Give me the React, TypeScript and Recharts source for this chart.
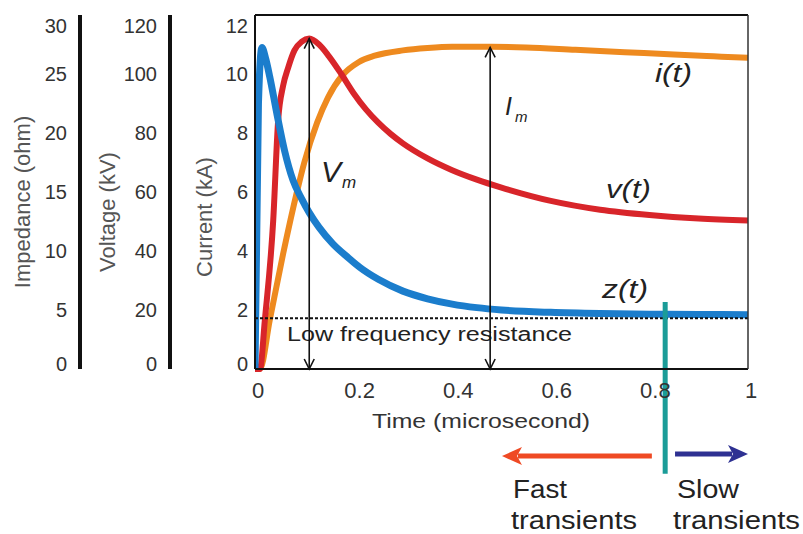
import { ComposedChart, Line, XAxis, YAxis, ReferenceLine } from 'recharts';

const timeTicks = [0, 0.2, 0.4, 0.6, 0.8, 1];
const currentTicks = [0, 2, 4, 6, 8, 10, 12];
const voltageTicks = [0, 20, 40, 60, 80, 100, 120];
const impedanceTicks = [0, 5, 10, 15, 20, 25, 30];

// i(t), kA
const iTime = [0, 0.01, 0.03, 0.057, 0.085, 0.1, 0.126, 0.148, 0.177, 0.21, 0.243, 0.3, 0.35, 0.4, 0.48, 0.55, 0.65, 0.75, 0.85, 0.93, 1];
const iCurrent = [0, 0, 1.66, 3.9, 6.0, 7.0, 8.35, 9.2, 9.95, 10.4, 10.62, 10.8, 10.88, 10.92, 10.92, 10.9, 10.82, 10.74, 10.66, 10.6, 10.55];

// v(t), kV
const vTime = [0, 0.01, 0.02, 0.037, 0.047, 0.057, 0.067, 0.08, 0.095, 0.11, 0.13, 0.15, 0.175, 0.2, 0.225, 0.25, 0.275, 0.3, 0.35, 0.4, 0.45, 0.5, 0.6, 0.7, 0.8, 0.9, 1];
const vVoltage = [0, 0, 16.6, 50.5, 84.4, 96, 102, 108, 111, 112, 110, 106, 100, 93.5, 88, 83.5, 79.7, 76.5, 71.4, 67.4, 64.2, 61.5, 57, 54, 52.2, 51, 50.3];

// z(t), ohm
const zTime = [0, 0.007, 0.014, 0.022, 0.03, 0.045, 0.06, 0.077, 0.095, 0.11, 0.13, 0.158, 0.19, 0.213, 0.25, 0.3, 0.35, 0.4, 0.45, 0.5, 0.6, 0.7, 0.8, 0.9, 1];
const zImpedance = [0, 22.5, 27.25, 26.25, 24.75, 21.5, 18.5, 16.0, 14.4, 13.25, 12.0, 10.6, 9.4, 8.6, 7.6, 6.6, 5.95, 5.5, 5.2, 5.0, 4.8, 4.7, 4.65, 4.62, 4.6];

const lowFreqResistance = 4.3; // ohm
const vPeak = { t: 0.11, kA: 11.2 };
const iPeak = { t: 0.477, kA: 10.9 };
const splitTime = 0.832;

const iData = iTime.map((t, k) => ({ t, value: iCurrent[k] }));
const vData = vTime.map((t, k) => ({ t, value: vVoltage[k] }));
const zData = zTime.map((t, k) => ({ t, value: zImpedance[k] }));

const FONT = '"Liberation Sans", Arial, sans-serif';

function makeYTick(min: number, max: number) {
  return (props: any) => {
    const { x, y, payload } = props;
    let shift = 0;
    if (payload.value === max) shift = 11;
    if (payload.value === min) shift = -5;
    return (
      <text x={x} y={y + shift} dy={7} textAnchor="end" fontSize={20} fill="#333" fontFamily={FONT}>
        {payload.value}
      </text>
    );
  };
}

function XTick(props: any) {
  const { x, y, payload } = props;
  const dx = payload.value === 0 || payload.value === 1 ? 3 : 6;
  return (
    <text x={x + dx} y={y + 29} textAnchor="middle" fontSize={22} fill="#333" fontFamily={FONT}>
      {payload.value}
    </text>
  );
}

const Blank = () => <g />;

function DoubleArrow(props: any) {
  const { x1, y1, x2, y2 } = props;
  const w = 5;
  const h = 10;
  const top = Math.min(y1, y2);
  const bot = Math.max(y1, y2);
  return (
    <g stroke="#111" strokeWidth={1.6} fill="none">
      <line x1={x1} y1={bot} x2={x2} y2={top} />
      <polyline points={`${x1 - w},${top + h} ${x1},${top} ${x1 + w},${top + h}`} />
      <polyline points={`${x1 - w},${bot - h} ${x1},${bot} ${x1 + w},${bot - h}`} />
    </g>
  );
}

function makeArrow(color: string) {
  return (props: any) => {
    const { x1, y1, x2 } = props;
    const dir = x2 < x1 ? -1 : 1;
    const len = 20;
    const half = 9;
    const back = x2 - dir * len;
    return (
      <g>
        <line x1={x1} y1={y1} x2={back + dir * 4} y2={y1} stroke={color} strokeWidth={5} />
        <polygon
          points={`${x2},${y1} ${back},${y1 - half} ${back + dir * 5},${y1} ${back},${y1 + half}`}
          fill={color}
        />
      </g>
    );
  };
}

export default function App() {
  return (
    <div style={{ width: 803, height: 534, background: '#fff' }}>
      <style>{'body{margin:0;}'}</style>
      <ComposedChart width={803} height={534} margin={{ top: 15, right: 55, bottom: 135, left: 0 }}>
        <XAxis
          xAxisId="t"
          dataKey="t"
          type="number"
          domain={[0, 1]}
          ticks={timeTicks}
          height={30}
          tickSize={0}
          tickMargin={0}
          tickLine={false}
          axisLine={{ stroke: '#111', strokeWidth: 2 }}
          tick={XTick}
          allowDataOverflow
        />
        <XAxis
          xAxisId="top"
          orientation="top"
          mirror
          type="number"
          domain={[0, 1]}
          ticks={timeTicks}
          tickSize={4}
          tick={Blank}
          tickLine={{ stroke: '#111', strokeWidth: 2 }}
          axisLine={{ stroke: '#111', strokeWidth: 2 }}
        />
        <XAxis
          xAxisId="bin"
          orientation="bottom"
          mirror
          type="number"
          domain={[0, 1]}
          ticks={timeTicks}
          tickSize={4}
          tick={Blank}
          tickLine={{ stroke: '#111', strokeWidth: 2 }}
          axisLine={false}
        />
        <YAxis
          yAxisId="i"
          orientation="left"
          width={85}
          type="number"
          domain={[0, 12]}
          ticks={currentTicks}
          tickSize={0}
          tickMargin={7}
          tickLine={false}
          axisLine={{ stroke: '#111', strokeWidth: 2 }}
          tick={makeYTick(0, 12)}
        />
        <YAxis
          yAxisId="v"
          orientation="left"
          width={90}
          type="number"
          domain={[0, 120]}
          ticks={voltageTicks}
          tickSize={0}
          tickMargin={13}
          tickLine={false}
          axisLine={{ stroke: '#111', strokeWidth: 4 }}
          tick={makeYTick(0, 120)}
        />
        <YAxis
          yAxisId="z"
          orientation="left"
          width={80}
          type="number"
          domain={[0, 30]}
          ticks={impedanceTicks}
          tickSize={0}
          tickMargin={13}
          tickLine={false}
          axisLine={{ stroke: '#111', strokeWidth: 4 }}
          tick={makeYTick(0, 30)}
        />
        <YAxis
          yAxisId="iin"
          orientation="left"
          mirror
          type="number"
          domain={[0, 12]}
          ticks={currentTicks}
          tickSize={4}
          tick={Blank}
          tickLine={{ stroke: '#111', strokeWidth: 2 }}
          axisLine={false}
        />
        <YAxis
          yAxisId="right"
          orientation="right"
          mirror
          type="number"
          domain={[0, 12]}
          ticks={currentTicks}
          tickSize={4}
          tick={Blank}
          tickLine={{ stroke: '#111', strokeWidth: 2 }}
          axisLine={{ stroke: '#333', strokeWidth: 1.5 }}
        />

        <Line
          xAxisId="t"
          yAxisId="i"
          data={iData}
          dataKey="value"
          type="monotone"
          stroke="#ee8a1f"
          strokeWidth={6}
          dot={false}
          isAnimationActive={false}
        />
        <Line
          xAxisId="t"
          yAxisId="v"
          data={vData}
          dataKey="value"
          type="monotone"
          stroke="#d8252a"
          strokeWidth={6}
          dot={false}
          isAnimationActive={false}
        />
        <Line
          xAxisId="t"
          yAxisId="z"
          data={zData}
          dataKey="value"
          type="monotone"
          stroke="#1b7dcc"
          strokeWidth={7}
          dot={false}
          isAnimationActive={false}
        />

        <ReferenceLine
          xAxisId="t"
          yAxisId="z"
          y={lowFreqResistance}
          stroke="#111"
          strokeWidth={1.8}
          strokeDasharray="3 2"
        />
        <ReferenceLine
          xAxisId="t"
          yAxisId="i"
          segment={[{ x: vPeak.t, y: 0 }, { x: vPeak.t, y: vPeak.kA }]}
          shape={DoubleArrow}
        />
        <ReferenceLine
          xAxisId="t"
          yAxisId="i"
          segment={[{ x: iPeak.t, y: 0 }, { x: iPeak.t, y: iPeak.kA }]}
          shape={DoubleArrow}
        />
        <ReferenceLine
          xAxisId="t"
          yAxisId="i"
          ifOverflow="visible"
          segment={[{ x: splitTime, y: 2.27 }, { x: splitTime, y: -3.55 }]}
          stroke="#1b9c98"
          strokeWidth={5}
        />
        <ReferenceLine
          xAxisId="t"
          yAxisId="i"
          ifOverflow="visible"
          segment={[{ x: 0.805, y: -2.95 }, { x: 0.501, y: -2.95 }]}
          shape={makeArrow('#ef4a24')}
        />
        <ReferenceLine
          xAxisId="t"
          yAxisId="i"
          ifOverflow="visible"
          segment={[{ x: 0.852, y: -2.88 }, { x: 1.0, y: -2.88 }]}
          shape={makeArrow('#2e3192')}
        />

        <g fontFamily={FONT}>
          <text transform="translate(30,202) rotate(-90)" textAnchor="middle" fontSize={22} fill="#555">
            Impedance (ohm)
          </text>
          <text transform="translate(115,212) rotate(-90)" textAnchor="middle" fontSize={22} fill="#555">
            Voltage (kV)
          </text>
          <text transform="translate(212,217) rotate(-90)" textAnchor="middle" fontSize={22} fill="#555">
            Current (kA)
          </text>
          <text x={372} y={428} fontSize={21} fill="#333" textLength={218} lengthAdjust="spacingAndGlyphs">
            Time (microsecond)
          </text>
          <text x={287} y={341} fontSize={20} fill="#222" textLength={285} lengthAdjust="spacingAndGlyphs">
            Low frequency resistance
          </text>
          <text x={655} y={82} fontSize={26} fontStyle="italic" fill="#222" textLength={37} lengthAdjust="spacingAndGlyphs">
            i(t)
          </text>
          <text x={606} y={198} fontSize={26} fontStyle="italic" fill="#222" textLength={45} lengthAdjust="spacingAndGlyphs">
            v(t)
          </text>
          <text x={602} y={298} fontSize={26} fontStyle="italic" fill="#222" textLength={46} lengthAdjust="spacingAndGlyphs">
            z(t)
          </text>
          <text x={321} y={182} fontSize={30} fontStyle="italic" fill="#222">V</text>
          <text x={342} y={188} fontSize={17} fontStyle="italic" fill="#222">m</text>
          <text x={505} y={115} fontSize={25} fontStyle="italic" fill="#222">I</text>
          <text x={515} y={122} fontSize={15} fontStyle="italic" fill="#222">m</text>
          <text x={513} y={498} fontSize={25} fill="#222" textLength={54} lengthAdjust="spacingAndGlyphs">Fast</text>
          <text x={511} y={529} fontSize={25} fill="#222" textLength={126} lengthAdjust="spacingAndGlyphs">transients</text>
          <text x={677} y={498} fontSize={25} fill="#222" textLength={62} lengthAdjust="spacingAndGlyphs">Slow</text>
          <text x={673} y={529} fontSize={25} fill="#222" textLength={127} lengthAdjust="spacingAndGlyphs">transients</text>
        </g>
      </ComposedChart>
    </div>
  );
}
